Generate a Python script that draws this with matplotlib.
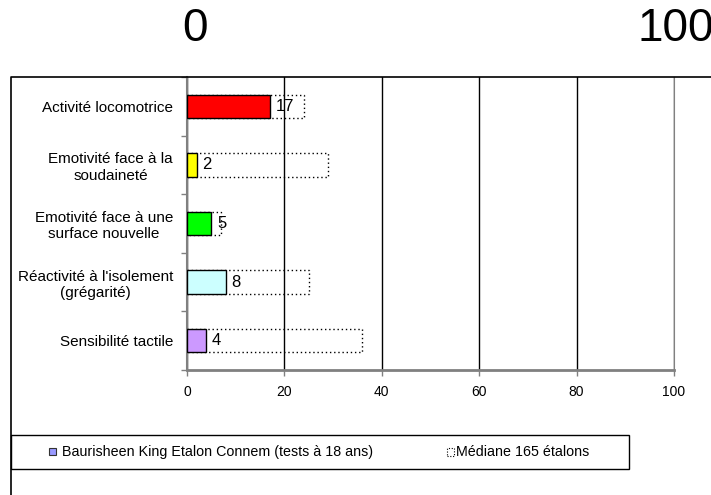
import matplotlib
matplotlib.use("Agg")
import matplotlib.pyplot as plt
from matplotlib.patches import Rectangle
from matplotlib.lines import Line2D

plt.rcParams['font.family'] = ['Liberation Sans', 'DejaVu Sans']

categories = [
    "Activité locomotrice",
    "Emotivité face à la\nsoudaineté",
    "Emotivité face à une\nsurface nouvelle",
    "Réactivité à l'isolement\n(grégarité)",
    "Sensibilité tactile",
]
horse_values = [17, 2, 5, 8, 4]
median_values = [24, 29, 7, 25, 36]
bar_colors = ["#FF0000", "#FFFF00", "#00FF00", "#CCFFFF", "#CC99FF"]
x_ticks = [0, 20, 40, 60, 80, 100]
horse_label = "Baurisheen King Etalon Connem (tests à 18 ans)"
median_label = "Médiane 165 étalons"
scale_labels = ["0", "100"]

W, H = 711, 495
fig = plt.figure(figsize=(W / 100, H / 100), dpi=100)

def fx(px):
    return px / W

def fy(py):
    return 1 - py / H

# outer chart frame (runs off the right and bottom edges)
fig.add_artist(Line2D([fx(11), fx(11), fx(760)], [fy(520), fy(77), fy(77)],
                      transform=fig.transFigure, color="black", lw=1.2))

# large scale marks above the chart
fig.text(fx(194.5), fy(29), scale_labels[0], fontsize=33, ha="center", va="center")
fig.text(fx(676), fy(29), scale_labels[1], fontsize=33, ha="center", va="center")

ax = fig.add_axes([fx(187), fy(370), fx(674) - fx(187), fy(77) - fy(370)])
ypos = list(range(len(categories)))

ax.barh(ypos, median_values, height=0.4, facecolor="none", edgecolor="black",
        linewidth=1.0, linestyle=(0, (1, 2)), zorder=3)
ax.barh(ypos, horse_values, height=0.4, color=bar_colors, edgecolor="black",
        linewidth=1.0, zorder=4)

for y, v in zip(ypos, horse_values):
    ax.annotate(str(v), (v, y), xytext=(4, 0), textcoords="offset points",
                ha="left", va="center", fontsize=12, zorder=5)

ax.set_xlim(0, 100)
ax.set_ylim(len(categories) - 0.5, -0.5)
ax.set_xticks(x_ticks)
ax.set_xticklabels([str(t) for t in x_ticks], fontsize=10)
ax.set_yticks(ypos)
ax.set_yticklabels(categories, fontsize=11, linespacing=1.2, multialignment="center")
ax.set_yticks([i - 0.5 for i in range(len(categories) + 1)], minor=True)

ax.tick_params(axis="y", which="major", length=0, pad=10)
ax.tick_params(axis="y", which="minor", length=4, color="#808080", width=1)
ax.tick_params(axis="x", which="major", length=4, color="#808080", width=1, pad=7)

ax.xaxis.grid(True, color="black", linewidth=1)
ax.set_axisbelow(True)
ax.spines["top"].set_visible(False)
ax.spines["right"].set_color("#808080")
ax.spines["left"].set_color("#808080")
ax.spines["bottom"].set_color("#808080")
ax.spines["left"].set_linewidth(1.5)
ax.spines["bottom"].set_linewidth(2)

# legend box along the bottom of the chart
fig.add_artist(Rectangle((fx(11), fy(469)), fx(629) - fx(11), fy(435) - fy(469),
                         transform=fig.transFigure, facecolor="white",
                         edgecolor="black", lw=1))
fig.add_artist(Rectangle((fx(49), fy(455)), fx(56) - fx(49), fy(448) - fy(455),
                         transform=fig.transFigure, facecolor="#9999FF",
                         edgecolor="#333333", lw=0.8))
fig.text(fx(62), fy(452), horse_label, fontsize=10.3, ha="left", va="center")
fig.add_artist(Rectangle((fx(447), fy(456)), fx(454) - fx(447), fy(448) - fy(456),
                         transform=fig.transFigure, facecolor="none",
                         edgecolor="black", lw=0.8, linestyle=(0, (1, 1.5))))
fig.text(fx(456), fy(452), median_label, fontsize=10.3, ha="left", va="center")

fig.savefig("out.png", dpi=100)
